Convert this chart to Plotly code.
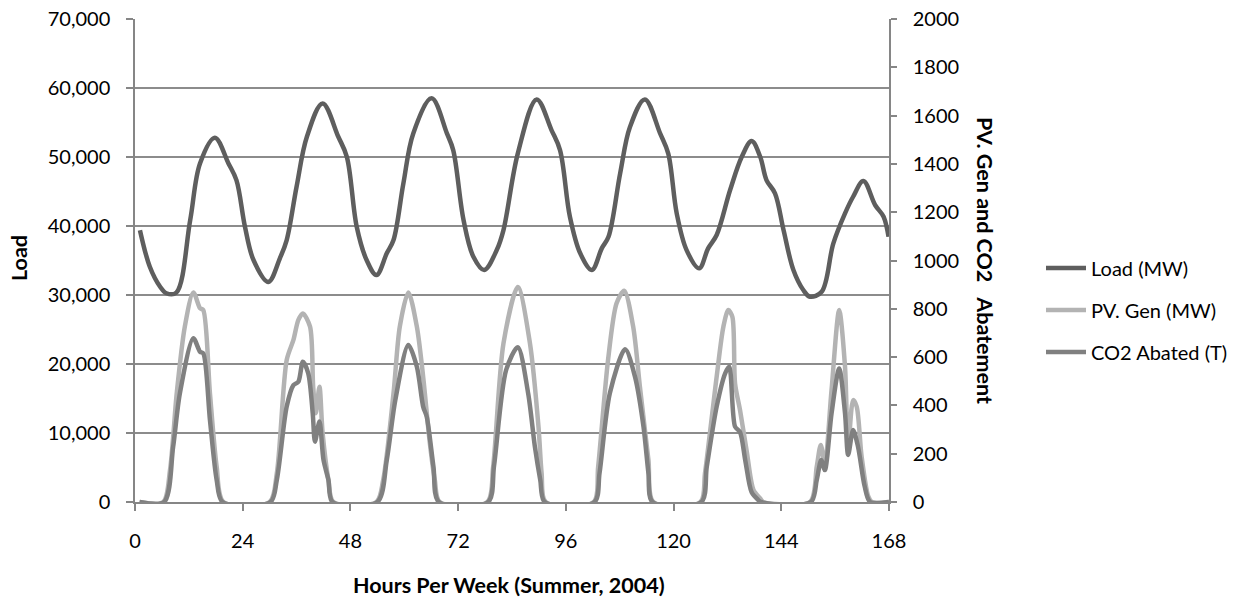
import plotly.graph_objects as go

# ---------------- data ----------------
load_hours = [1.1, 3.3, 5.6, 7.0, 9.2, 12.3, 14.5, 17.8, 20.8, 22.6, 24.5, 26.4, 29.7,
              32.3, 33.8, 36.0, 38.3, 41.8, 45.3, 47.2, 49.4, 51.6, 53.8, 56.1, 57.6,
              59.8, 62.0, 66.1, 69.5, 70.9, 73.2, 75.4, 77.8, 80.6, 82.1, 85.3, 89.5,
              92.8, 94.7, 96.9, 99.2, 101.8, 104.0, 105.5, 108.1, 110.3, 113.6, 117.0,
              118.8, 120.7, 122.9, 125.7, 127.7, 129.6, 132.6, 135.2, 137.4, 139.3,
              140.7, 142.6, 144.5, 146.7, 148.9, 150.4, 153.0, 155.6, 158.2, 160.0,
              162.3, 164.9, 166.8, 167.9]
load_mw = [39400, 34100, 31200, 30250, 30350, 40860, 49100, 52800, 49100, 46650, 39900,
           35070, 31900, 35350, 37960, 45690, 52930, 57770, 52930, 50030, 39890, 35070,
           32890, 36040, 37960, 46180, 53420, 58500, 53420, 51000, 40860, 35540, 33620,
           36510, 39410, 50530, 58350, 53900, 51000, 41340, 36040, 33620, 36760, 38440,
           47630, 54380, 58350, 53420, 50530, 41830, 36510, 33860, 36760, 38690, 45210,
           50030, 52310, 50030, 46660, 44730, 39410, 33620, 30720, 29750, 30470, 37490,
           41830, 44240, 46510, 43040, 41340, 38440]

pv_hours = [1, 6.3, 7.8, 9.3, 11.1, 13.0, 14.5, 15.2, 16.7, 18.2, 19.7,
            30.0, 31.6, 33.8, 35.3, 36.4, 37.4, 39.0, 39.7, 40.3, 41.1, 41.8, 43.1, 44.2,
            53.8, 55.3, 57.6, 59.0, 60.9, 62.8, 64.2, 65.7, 66.8, 67.9,
            78.5, 79.8, 82.1, 85.3, 88.0, 89.9, 90.6, 91.5,
            102.2, 103.2, 105.4, 107.3, 109.0, 111.0, 112.5, 114.4, 115.5,
            126.0, 127.0, 129.6, 131.1, 132.2, 133.1, 133.7, 134.8, 136.3, 137.8, 139.3, 140.0,
            150.4, 151.9, 152.8, 153.7, 155.2, 156.9, 158.2, 158.9, 160.0, 160.8, 161.9,
            163.4, 164.2, 168]
pv_gen = [0, 0, 132, 450, 726, 868, 802, 795, 450, 146, 0,
          0, 119, 588, 671, 754, 781, 726, 477, 368, 477, 286, 91, 0,
          0, 91, 450, 726, 868, 726, 519, 243, 91, 0,
          0, 146, 657, 890, 657, 312, 119, 0,
          0, 146, 588, 823, 875, 726, 477, 174, 0,
          0, 119, 519, 726, 795, 767, 491, 381, 210, 50, 15, 0,
          0, 146, 236, 160, 464, 795, 560, 229, 422, 395, 188,
          22, 0, 0]

co2_hours = [1, 6.5, 8.5, 10.0, 13.0, 14.5, 15.2, 16.7, 18.2, 19.5,
             30.2, 31.6, 33.8, 35.3, 36.4, 37.4, 38.6, 39.6, 40.1, 41.1, 42.0, 43.1, 44.0,
             54.0, 56.1, 58.0, 60.9, 62.8, 64.2, 65.0, 66.5, 67.7,
             78.7, 80.0, 82.7, 85.3, 87.6, 89.1, 90.3, 91.3,
             102.4, 103.5, 105.8, 109.2, 111.4, 113.3, 114.4, 115.3,
             126.2, 127.4, 129.6, 131.5, 132.4, 133.7, 134.8, 136.0, 137.4, 138.9, 139.5,
             150.6, 151.9, 152.9, 153.7, 155.2, 156.9, 158.2, 158.9, 160.0, 161.1, 162.6,
             163.8, 168]
co2_abated = [0, 0, 229, 450, 678, 622, 616, 340, 91, 0,
              0, 91, 395, 484, 498, 581, 533, 367, 250, 333, 174, 91, 0,
              0, 174, 422, 650, 560, 395, 353, 146, 0,
              0, 150, 547, 641, 450, 229, 91, 0,
              0, 119, 450, 632, 519, 312, 119, 0,
              0, 146, 395, 533, 560, 312, 290, 170, 40, 8, 0,
              0, 91, 174, 132, 367, 553, 367, 195, 298, 229, 63,
              0, 0]

x_ticks = [0, 24, 48, 72, 96, 120, 144, 168]

# ---------------- figure ----------------
FONT = "Lato"
TITLE_SIZE = 21.5
fig = go.Figure()
fig.add_trace(go.Scatter(x=load_hours, y=load_mw, name="Load (MW)", mode="lines",
                         legendgroup="a",
                         line=dict(color="#5e5e5e", width=4.5, shape="spline", smoothing=1.0),
                         yaxis="y"))
fig.add_trace(go.Scatter(x=pv_hours, y=pv_gen, name="PV. Gen (MW)", mode="lines",
                         legendgroup="b",
                         line=dict(color="#b3b3b3", width=4.5, shape="spline", smoothing=0.8),
                         yaxis="y2"))
fig.add_trace(go.Scatter(x=co2_hours, y=co2_abated, name="CO2 Abated (T)", mode="lines",
                         legendgroup="c",
                         line=dict(color="#808080", width=4.5, shape="spline", smoothing=0.8),
                         yaxis="y2"))

axis_col = "#868686"
fig.update_layout(
    width=1251, height=600,
    margin=dict(l=135, r=362, t=19, b=98, autoexpand=False),
    paper_bgcolor="white", plot_bgcolor="white",
    font=dict(family=FONT, size=20, color="#000000"),
    showlegend=True,
    legend=dict(x=(1041 - 135) / 754.0, y=(502 - 310) / 483.0, xanchor="left", yanchor="middle",
                font=dict(family=FONT, size=20, color="#000000"),
                bgcolor="rgba(0,0,0,0)", tracegroupgap=13, traceorder="grouped", itemwidth=40),
    xaxis=dict(range=[0, 168], tickvals=x_ticks, ticktext=[str(v) for v in x_ticks],
               showgrid=False, zeroline=False, showline=True, linecolor=axis_col, linewidth=1.5,
               ticks="outside", ticklen=7, tickcolor=axis_col, tickwidth=1.5, automargin=False,
               ticklabelstandoff=13, tickfont=dict(family=FONT, size=20, color="#000")),
    yaxis=dict(range=[0, 70000], dtick=10000, tickformat=",d", automargin=False,
               showgrid=True, gridcolor="#8c8c8c", gridwidth=1.5, zeroline=False,
               showline=True, linecolor=axis_col, linewidth=1.5,
               ticks="outside", ticklen=7, tickcolor=axis_col, tickwidth=1.5,
               ticklabelstandoff=12, tickfont=dict(family=FONT, size=20, color="#000")),
    yaxis2=dict(range=[0, 2000], dtick=200, tickformat="d", overlaying="y", side="right",
                showgrid=False, zeroline=False, showline=True, linecolor=axis_col, linewidth=1.5,
                ticks="outside", ticklen=6, tickcolor=axis_col, tickwidth=1.5, automargin=False,
                ticklabelstandoff=12, tickfont=dict(family=FONT, size=20, color="#000")),
    annotations=[
        dict(text="<b>Hours Per Week (Summer, 2004)</b>", xref="paper", yref="paper",
             x=(509 - 135) / 754.0, y=(502 - 585) / 483.0, xanchor="center", yanchor="middle",
             showarrow=False, font=dict(family=FONT, size=TITLE_SIZE, color="#000")),
        dict(text="<b>Load</b>", xref="paper", yref="paper", textangle=-90,
             x=(19 - 135) / 754.0, y=(502 - 258) / 483.0, xanchor="center", yanchor="middle",
             showarrow=False, font=dict(family=FONT, size=TITLE_SIZE, color="#000")),
        dict(text="<b>PV. Gen and CO2\u00a0\u00a0 Abatement</b>", xref="paper", yref="paper",
             textangle=90,
             x=(985 - 135) / 754.0, y=(502 - 260) / 483.0, xanchor="center", yanchor="middle",
             showarrow=False, font=dict(family=FONT, size=TITLE_SIZE, color="#000")),
    ],
)

fig.write_html("out.html", config={"displayModeBar": False},
               post_script="document.body.style.margin='0px';document.body.style.overflow='hidden';")
